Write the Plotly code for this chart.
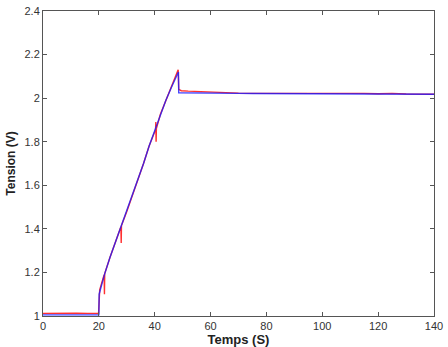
import plotly.graph_objects as go

# Blue series (time in s, voltage in V)
t_blue = [0, 5, 10, 15, 19.9, 20.0, 20.1, 22, 24, 26, 28, 30, 32, 34, 36, 38, 40, 42, 44, 46, 48.5,
          48.6, 50, 55, 60, 65, 70, 75, 80, 90, 100, 110, 120, 130, 140]
v_blue = [1.005, 1.005, 1.005, 1.005, 1.005, 1.005, 1.10, 1.19, 1.27, 1.34, 1.41, 1.48, 1.55, 1.62, 1.70, 1.78, 1.85, 1.92, 1.99, 2.05, 2.12,
          2.025, 2.025, 2.024, 2.023, 2.022, 2.022, 2.021, 2.021, 2.021, 2.020, 2.020, 2.019, 2.019, 2.018]

# Red series
t_red = [0, 4, 8, 12, 16, 19.9, 20.3, 21.9, 22.0, 22.1, 24, 26, 27.9, 28.0, 28.1, 30, 32, 34, 36, 38, 40.3, 40.4, 40.5, 40.6,
         42, 44, 46, 48.4, 48.6, 49.5, 52, 55, 58, 62, 66, 70, 75, 80, 85, 90, 100, 105, 110, 115, 120, 125, 130, 135, 140]
v_red = [1.012, 1.013, 1.011, 1.013, 1.012, 1.012, 1.12, 1.19, 1.10, 1.195, 1.27, 1.345, 1.41, 1.335, 1.415, 1.48, 1.55, 1.625, 1.70, 1.78, 1.855, 1.89, 1.80, 1.86,
         1.925, 1.99, 2.055, 2.13, 2.04, 2.034, 2.032, 2.030, 2.028, 2.025, 2.024, 2.023, 2.022, 2.022, 2.024, 2.021, 2.022, 2.023, 2.021, 2.022, 2.020, 2.022, 2.019, 2.020, 2.018]

x_ticks = [0, 20, 40, 60, 80, 100, 120, 140]
y_ticks = [1, 1.2, 1.4, 1.6, 1.8, 2, 2.2, 2.4]

fig = go.Figure()
fig.add_trace(go.Scatter(x=t_red, y=v_red, mode="lines",
                         line=dict(color="#ff3030", width=1.4), showlegend=False))
fig.add_trace(go.Scatter(x=t_blue, y=v_blue, mode="lines",
                         line=dict(color="#1a1aff", width=1.4), opacity=0.8, showlegend=False))

axis_common = dict(showgrid=False, zeroline=False, showline=True, linecolor="#555555", linewidth=1,
                   mirror="ticks", ticks="inside", ticklen=4, tickcolor="#555555", automargin=False,
                   tickfont=dict(family="Liberation Sans, Arial", size=11, color="#333333"))

fig.update_xaxes(range=[0, 140], tickvals=x_ticks, ticktext=[str(v) for v in x_ticks],
                 title=dict(text="<b>Temps (S)</b>", font=dict(family="Liberation Sans, Arial", size=13, color="#222222"), standoff=5),
                 **axis_common)
fig.update_yaxes(range=[1, 2.4], tickvals=y_ticks, ticktext=[f"{v:g}" for v in y_ticks],
                 title=dict(text="<b>Tension (V)</b>", font=dict(family="Liberation Sans, Arial", size=12, color="#222222"), standoff=6),
                 **axis_common)

fig.update_layout(width=448, height=347, margin=dict(l=43, r=14, t=11, b=31),
                  paper_bgcolor="white", plot_bgcolor="white")

fig.write_html("out.html")
